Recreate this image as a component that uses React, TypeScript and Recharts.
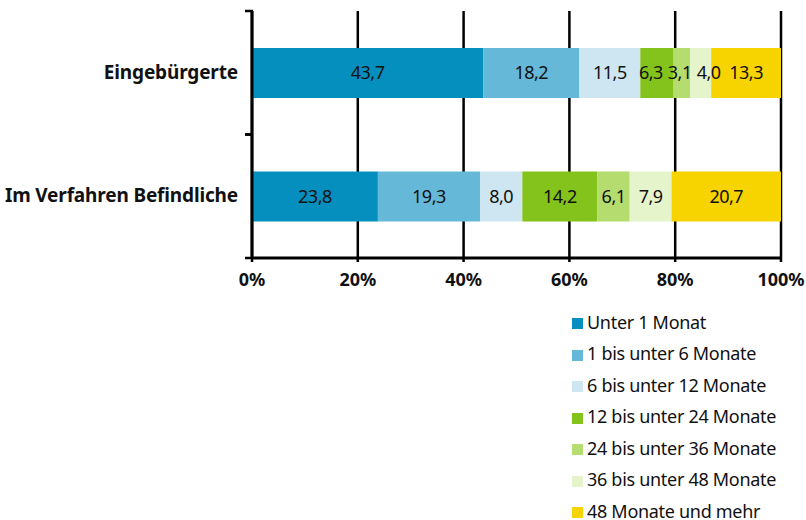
import React from "react";
import { BarChart, Bar, XAxis, YAxis, CartesianGrid, LabelList } from "recharts";

const categories = ["Eingebürgerte", "Im Verfahren Befindliche"];
const seriesNames = [
  "Unter 1 Monat",
  "1 bis unter 6 Monate",
  "6 bis unter 12 Monate",
  "12 bis unter 24 Monate",
  "24 bis unter 36 Monate",
  "36 bis unter 48 Monate",
  "48 Monate und mehr",
];
const eingebuergert = [43.7, 18.2, 11.5, 6.3, 3.1, 4.0, 13.3];
const imVerfahren = [23.8, 19.3, 8.0, 14.2, 6.1, 7.9, 20.7];
const xTicks = [0, 20, 40, 60, 80, 100];

const colors = ["#058fbe", "#66b8d8", "#cde6f2", "#84c31c", "#b5dc6e", "#e6f4cc", "#f7d300"];
const font = "'Noto Sans', sans-serif";
const labelFont = `18px 'Noto Sans'`;
const rows = [eingebuergert, imVerfahren];

const data = categories.map((name, i) => {
  const row: Record<string, string | number> = { name };
  seriesNames.forEach((s, j) => (row["s" + j] = rows[i][j]));
  return row;
});

const fmt = (v: number) => v.toFixed(1).replace(".", ",");

let ctx: CanvasRenderingContext2D | null = null;
function textWidth(t: string) {
  if (!ctx) ctx = document.createElement("canvas").getContext("2d");
  if (!ctx) return t.length * 9;
  ctx.font = labelFont;
  return ctx.measureText(t).width - t.length * 0.5;
}

// push value labels apart where segments are too narrow (px, from bar start)
function spreadLabels(vals: number[], ppu: number) {
  let acc = 0;
  const pos = vals.map((v) => {
    const c = (acc + v / 2) * ppu;
    acc += v;
    return c;
  });
  const w = vals.map((v) => textWidth(fmt(v)));
  for (let it = 0; it < 50; it++) {
    for (let i = 0; i < pos.length - 1; i++) {
      const need = (w[i] + w[i + 1]) / 2 + 5;
      const d = pos[i + 1] - pos[i];
      if (d < need) {
        const push = (need - d) / 2;
        pos[i] -= push;
        pos[i + 1] += push;
      }
    }
  }
  return pos;
}

function makeLabel(j: number) {
  return (props: any) => {
    const { x, y, width, height, index } = props;
    const vals = rows[index];
    const ppu = width / vals[j];
    const before = vals.slice(0, j).reduce((a, b) => a + b, 0);
    const start = x - before * ppu;
    const cx = start + spreadLabels(vals, ppu)[j];
    return (
      <text x={cx} y={y + height / 2} dy={6} textAnchor="middle" fontFamily={font} fontSize={18} letterSpacing={-0.5} fill="#111">
        {fmt(vals[j])}
      </text>
    );
  };
}

// band ticks: label in the middle, small marks at band edges
function CatTick(props: any) {
  const { x, y, payload } = props;
  const half = 61.75;
  return (
    <g>
      <line x1={x + 1} x2={x + 9} y1={y - half} y2={y - half} stroke="#000" strokeWidth={2.5} />
      <line x1={x + 1} x2={x + 9} y1={y + half} y2={y + half} stroke="#000" strokeWidth={2.5} />
      <text x={x - 6} y={y} dy={6} textAnchor="end" fontFamily={font} fontWeight={700} fontSize={19} letterSpacing={-0.15} fill="#111">
        {payload.value}
      </text>
    </g>
  );
}

export default function App() {
  return (
    <div style={{ position: "absolute", left: 0, top: 0, width: 806, height: 520, background: "#fff" }}>
      <BarChart
        width={806}
        height={520}
        data={data}
        layout="vertical"
        margin={{ top: 11, right: 25, bottom: 232, left: 0 }}
      >
        <CartesianGrid horizontal={false} vertical stroke="#000" strokeWidth={2.5} />
        <XAxis
          type="number"
          domain={[0, 100]}
          ticks={xTicks}
          allowDataOverflow
          tickFormatter={(v) => v + "%"}
          axisLine={{ stroke: "#000", strokeWidth: 3 }}
          tickLine={{ stroke: "#000", strokeWidth: 2.5 }}
          tickSize={4}
          tickMargin={11}
          height={30}
          tick={{ fill: "#111", fontFamily: font, fontWeight: 700, fontSize: 18 }}
        />
        <YAxis
          type="category"
          dataKey="name"
          width={252}
          axisLine={{ stroke: "#000", strokeWidth: 3 }}
          tickLine={false}
          tick={<CatTick />}
        />
        {seriesNames.map((s, j) => (
          <Bar key={s} dataKey={"s" + j} name={s} stackId="a" fill={colors[j]} barSize={50} isAnimationActive={false}>
            <LabelList dataKey={"s" + j} content={makeLabel(j)} />
          </Bar>
        ))}
      </BarChart>
      <div style={{ position: "absolute", left: 572, top: 306, fontFamily: font, fontSize: 18, color: "#111", letterSpacing: -0.3 }}>
        {seriesNames.map((s, j) => (
          <div key={s} style={{ display: "flex", alignItems: "center", height: 31.5, whiteSpace: "nowrap" }}>
            <span style={{ display: "inline-block", width: 11, height: 11, background: colors[j], marginRight: 4, marginTop: 4, flex: "none" }} />
            {s}
          </div>
        ))}
      </div>
    </div>
  );
}
